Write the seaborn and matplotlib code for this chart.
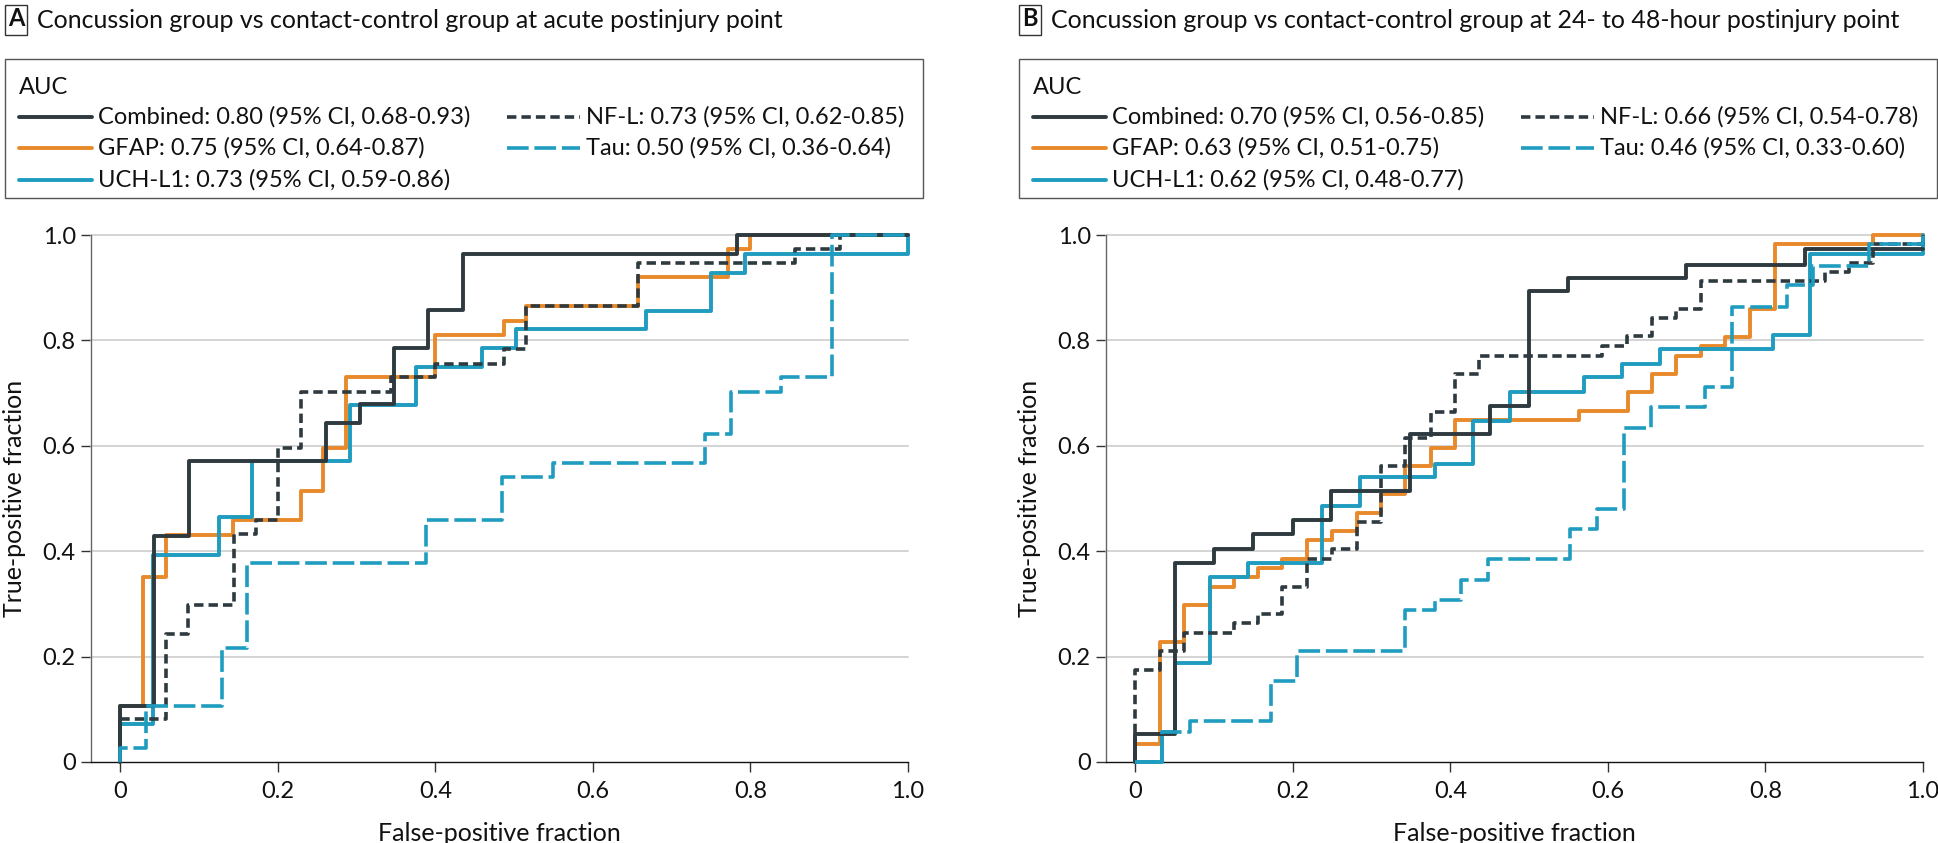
import matplotlib
matplotlib.use("Agg")
import matplotlib.pyplot as plt
import seaborn as sns
from matplotlib.lines import Line2D
from matplotlib.patches import Rectangle

# ROC step corners (false-positive fraction, true-positive fraction)
# Panel A - acute postinjury point
comb_a_fpr = [0, 0, 0.043, 0.087, 0.261, 0.304, 0.348, 0.391, 0.435, 0.783, 1.0]
comb_a_tpr = [0, 0.107, 0.429, 0.571, 0.643, 0.679, 0.786, 0.857, 0.964, 1.0, 1.0]
gfap_a_fpr = [0, 0, 0.029, 0.058, 0.143, 0.229, 0.257, 0.287, 0.400, 0.487, 0.515, 0.657, 0.772, 0.800, 1.0]
gfap_a_tpr = [0, 0.107, 0.351, 0.430, 0.459, 0.514, 0.595, 0.730, 0.810, 0.837, 0.865, 0.920, 0.973, 1.0, 1.0]
uch_a_fpr = [0, 0, 0.042, 0.125, 0.167, 0.292, 0.375, 0.459, 0.502, 0.667, 0.750, 0.793, 1.0, 1.0]
uch_a_tpr = [0, 0.072, 0.393, 0.465, 0.571, 0.678, 0.749, 0.786, 0.822, 0.856, 0.928, 0.964, 0.964, 1.0]
nfl_a_fpr = [0, 0, 0.058, 0.086, 0.144, 0.172, 0.200, 0.229, 0.344, 0.400, 0.487, 0.515, 0.657, 0.857, 0.914, 1.0]
nfl_a_tpr = [0, 0.081, 0.243, 0.297, 0.432, 0.459, 0.595, 0.702, 0.730, 0.756, 0.783, 0.865, 0.946, 0.973, 1.0, 1.0]
tau_a_fpr = [0, 0, 0.033, 0.129, 0.161, 0.388, 0.485, 0.549, 0.742, 0.775, 0.839, 0.904, 1.0]
tau_a_tpr = [0, 0.027, 0.107, 0.217, 0.378, 0.459, 0.541, 0.568, 0.622, 0.702, 0.730, 1.0, 1.0]

# Panel B - 24- to 48-hour postinjury point
comb_b_fpr = [0, 0, 0.050, 0.100, 0.150, 0.200, 0.249, 0.349, 0.450, 0.500, 0.550, 0.699, 0.850, 1.0]
comb_b_tpr = [0, 0.053, 0.378, 0.405, 0.432, 0.459, 0.514, 0.622, 0.676, 0.893, 0.919, 0.944, 0.973, 0.973]
gfap_b_fpr = [0, 0, 0.031, 0.062, 0.095, 0.126, 0.156, 0.187, 0.218, 0.250, 0.281, 0.312, 0.343, 0.376,
              0.406, 0.564, 0.625, 0.656, 0.687, 0.718, 0.749, 0.781, 0.812, 0.937, 1.0]
gfap_b_tpr = [0, 0.034, 0.227, 0.298, 0.333, 0.351, 0.368, 0.386, 0.421, 0.439, 0.473, 0.509, 0.561, 0.596,
              0.649, 0.666, 0.702, 0.737, 0.771, 0.790, 0.806, 0.860, 0.982, 1.0, 1.0]
uch_b_fpr = [0, 0.034, 0.050, 0.095, 0.143, 0.237, 0.286, 0.381, 0.429, 0.476, 0.570, 0.618, 0.666, 0.809,
             0.857, 1.0, 1.0]
uch_b_tpr = [0, 0.056, 0.188, 0.351, 0.377, 0.486, 0.541, 0.566, 0.648, 0.702, 0.730, 0.756, 0.783, 0.810,
             0.964, 0.964, 1.0]
nfl_b_fpr = [0, 0, 0.032, 0.062, 0.126, 0.156, 0.187, 0.218, 0.250, 0.281, 0.312, 0.343, 0.375, 0.406,
             0.437, 0.592, 0.624, 0.656, 0.687, 0.718, 0.875, 0.906, 0.936, 1.0, 1.0]
nfl_b_tpr = [0, 0.175, 0.210, 0.245, 0.263, 0.280, 0.333, 0.386, 0.404, 0.456, 0.561, 0.615, 0.664, 0.737,
             0.771, 0.790, 0.808, 0.842, 0.860, 0.912, 0.930, 0.947, 0.982, 0.982, 1.0]
tau_b_fpr = [0, 0.034, 0.069, 0.173, 0.206, 0.343, 0.380, 0.414, 0.448, 0.552, 0.586, 0.620, 0.655, 0.723,
             0.757, 0.827, 0.860, 0.932, 1.0, 1.0]
tau_b_tpr = [0, 0.056, 0.077, 0.154, 0.210, 0.289, 0.307, 0.346, 0.385, 0.442, 0.481, 0.634, 0.673, 0.711,
             0.864, 0.905, 0.942, 0.982, 0.982, 1.0]

panel_letters = ["A", "B"]
panel_titles = ["Concussion group vs contact-control group at acute postinjury point",
                "Concussion group vs contact-control group at 24- to 48-hour postinjury point"]
labels_a = ["Combined: 0.80 (95% CI, 0.68-0.93)", "GFAP: 0.75 (95% CI, 0.64-0.87)",
            "UCH-L1: 0.73 (95% CI, 0.59-0.86)", "NF-L: 0.73 (95% CI, 0.62-0.85)",
            "Tau: 0.50 (95% CI, 0.36-0.64)"]
labels_b = ["Combined: 0.70 (95% CI, 0.56-0.85)", "GFAP: 0.63 (95% CI, 0.51-0.75)",
            "UCH-L1: 0.62 (95% CI, 0.48-0.77)", "NF-L: 0.66 (95% CI, 0.54-0.78)",
            "Tau: 0.46 (95% CI, 0.33-0.60)"]
ticks = [0, 0.2, 0.4, 0.6, 0.8, 1.0]
tick_labels = ["0", "0.2", "0.4", "0.6", "0.8", "1.0"]

DARK = "#2e3a3f"
ORANGE = "#e8892b"
TEAL = "#1f9cbf"
# style per series: colour, width, dash pattern (None = solid)
styles = {
    "comb": (DARK, 2.8, None),
    "gfap": (ORANGE, 2.8, None),
    "uch": (TEAL, 2.8, None),
    "nfl": (DARK, 2.6, (2.6, 1.4)),
    "tau": (TEAL, 2.6, (6.0, 1.6)),
}
order = ["comb", "gfap", "uch", "nfl", "tau"]
draw_order = ["gfap", "uch", "comb", "nfl", "tau"]

sns.set_style("white")
plt.rcParams["font.family"] = ["Lato", "DejaVu Sans"]
FS = 17

W, H = 1938, 843
fig = plt.figure(figsize=(W / 100, H / 100), dpi=100)


def fx(px):
    return px / W


def fy(py):
    return 1 - py / H


curves = [
    {"comb": (comb_a_fpr, comb_a_tpr), "gfap": (gfap_a_fpr, gfap_a_tpr), "uch": (uch_a_fpr, uch_a_tpr),
     "nfl": (nfl_a_fpr, nfl_a_tpr), "tau": (tau_a_fpr, tau_a_tpr)},
    {"comb": (comb_b_fpr, comb_b_tpr), "gfap": (gfap_b_fpr, gfap_b_tpr), "uch": (uch_b_fpr, uch_b_tpr),
     "nfl": (nfl_b_fpr, nfl_b_tpr), "tau": (tau_b_fpr, tau_b_tpr)},
]
all_labels = [labels_a, labels_b]
offsets = [0, 1014]  # pixel x offset of panel B relative to panel A

for i in range(2):
    off = offsets[i]
    # panel letter box and title
    fig.add_artist(Rectangle((fx(5 + off), fy(35)), fx(22), 30 / H, transform=fig.transFigure,
                             fill=False, edgecolor="#333333", lw=1.0))
    fig.text(fx(16 + off), fy(19), panel_letters[i], ha="center", va="center", fontsize=FS,
             fontweight="bold", color="#111111")
    fig.text(fx(37 + off), fy(20), panel_titles[i], ha="left", va="center", fontsize=FS + 1, color="#111111")

    # legend box
    fig.add_artist(Rectangle((fx(5 + off), fy(198)), fx(918), 139 / H, transform=fig.transFigure,
                             fill=False, edgecolor="#555555", lw=1.0))
    fig.text(fx(19 + off), fy(88), "AUC", ha="left", va="center", fontsize=FS, color="#111111")
    rows = [117, 148, 180]
    pos = [(19, rows[0]), (19, rows[1]), (19, rows[2]), (507, rows[0]), (507, rows[1])]
    for key, lab, (lx, ly) in zip(order, all_labels[i], pos):
        col, lw, dash = styles[key]
        ln = Line2D([fx(lx + off), fx(lx + off + 73)], [fy(ly), fy(ly)], transform=fig.transFigure,
                    color=col, lw=lw)
        if dash:
            ln.set_dashes(dash)
        fig.add_artist(ln)
        fig.text(fx(lx + off + 79), fy(ly), lab, ha="left", va="center", fontsize=FS, color="#111111")

    # axes
    left = 91 if i == 0 else 1106
    ax = fig.add_axes([fx(left), fy(762), fx(817), 527 / H])
    for key in draw_order:
        col, lw, dash = styles[key]
        xs, ys = curves[i][key]
        sns.lineplot(x=xs, y=ys, ax=ax, estimator=None, sort=False, drawstyle="steps-post",
                     color=col, lw=lw, clip_on=False, zorder=3)
        if dash:
            ax.lines[-1].set_dashes(dash)

    ax.set_xlim(-0.037, 1.0)
    ax.set_ylim(0, 1.0)
    ax.set_xticks(ticks)
    ax.set_xticklabels(tick_labels)
    ax.set_yticks(ticks)
    ax.set_yticklabels(tick_labels)
    for y in ticks[1:]:
        ax.axhline(y, color="#d4d4d4", lw=1.4, zorder=1, clip_on=False)
    sns.despine(ax=ax, top=True, right=True)
    ax.spines["left"].set_color("#666666")
    ax.spines["left"].set_linewidth(1.0)
    ax.spines["bottom"].set_color("#111111")
    ax.spines["bottom"].set_linewidth(1.0)
    ax.tick_params(axis="both", direction="out", length=7, width=1.0, color="#333333",
                   labelsize=FS, labelcolor="#111111", bottom=True, left=True)
    ax.tick_params(axis="x", pad=7)
    ax.tick_params(axis="y", pad=4)
    ax.set_xlabel("False-positive fraction", fontsize=FS + 1, color="#111111", labelpad=14)
    ax.set_ylabel("True-positive fraction", fontsize=FS + 1, color="#111111", labelpad=12)
    ax.patch.set_alpha(0)

fig.savefig("out.png", dpi=100)
